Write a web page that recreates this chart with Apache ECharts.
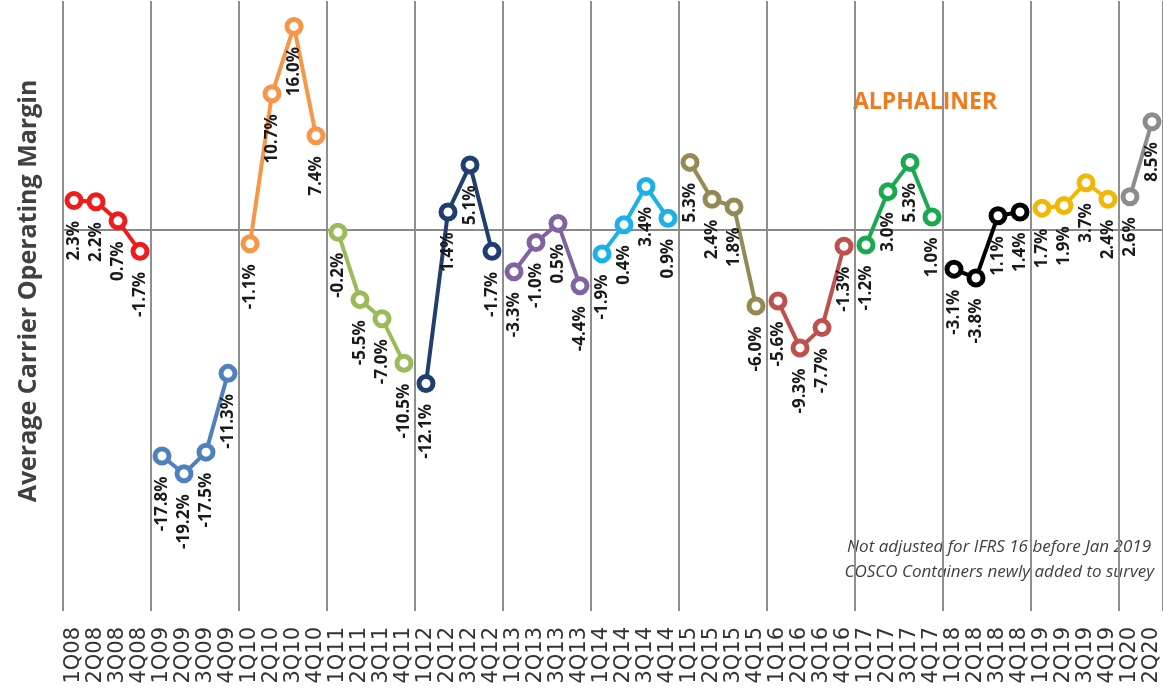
<!DOCTYPE html>
<html>
<head>
<meta charset="utf-8">
<title>Average Carrier Operating Margin</title>
<script src="https://cdn.jsdelivr.net/npm/echarts@6/dist/echarts.min.js"></script>
<style>
  html, body { margin: 0; padding: 0; background: #ffffff; }
  #chart { width: 1163px; height: 695px; }
</style>
</head>
<body>
<div id="chart"></div>
<script>
// Quarter categories, 1Q08 through 2Q20
const quarters = [
  '1Q08','2Q08','3Q08','4Q08','1Q09','2Q09','3Q09','4Q09',
  '1Q10','2Q10','3Q10','4Q10','1Q11','2Q11','3Q11','4Q11',
  '1Q12','2Q12','3Q12','4Q12','1Q13','2Q13','3Q13','4Q13',
  '1Q14','2Q14','3Q14','4Q14','1Q15','2Q15','3Q15','4Q15',
  '1Q16','2Q16','3Q16','4Q16','1Q17','2Q17','3Q17','4Q17',
  '1Q18','2Q18','3Q18','4Q18','1Q19','2Q19','3Q19','4Q19',
  '1Q20','2Q20'
];

// Average carrier operating margin per quarter (%)
const margins = [
  2.3, 2.2, 0.7, -1.7,
  -17.8, -19.2, -17.5, -11.3,
  -1.1, 10.7, 16.0, 7.4,
  -0.2, -5.5, -7.0, -10.5,
  -12.1, 1.4, 5.1, -1.7,
  -3.3, -1.0, 0.5, -4.4,
  -1.9, 0.4, 3.4, 0.9,
  5.3, 2.4, 1.8, -6.0,
  -5.6, -9.3, -7.7, -1.3,
  -1.2, 3.0, 5.3, 1.0,
  -3.1, -3.8, 1.1, 1.4,
  1.7, 1.9, 3.7, 2.4,
  2.6, 8.5
];

// One line per year, each with its own colour
const years = ['2008','2009','2010','2011','2012','2013','2014','2015','2016','2017','2018','2019','2020'];
const yearColors = [
  '#ee1c1c', '#4f81bd', '#f79646', '#9bbb59', '#1f3f6e', '#8064a2',
  '#1ab0e8', '#948a54', '#c0504d', '#19a94f', '#000000', '#f2b705', '#8c8c8c'
];

const series = years.map((year, y) => ({
  type: 'line',
  name: year,
  data: margins.map((v, i) => (Math.floor(i / 4) === y ? v : null)),
  connectNulls: false,
  symbol: 'circle',
  symbolSize: 14,
  itemStyle: { color: '#ffffff', borderColor: yearColors[y], borderWidth: 5 },
  lineStyle: { color: yearColors[y], width: 4 },
  label: {
    show: true,
    position: 'bottom',
    distance: 11,
    rotate: 90,
    align: 'right',
    verticalAlign: 'middle',
    fontFamily: 'Open Sans',
    fontWeight: 'bold',
    fontSize: 17,
    color: '#1a1a1a',
    formatter: p => p.value.toFixed(1) + '%'
  },
  z: 3
}));

// Zero reference line
series[0].markLine = {
  silent: true,
  symbol: 'none',
  label: { show: false },
  lineStyle: { color: '#8a8a8a', width: 2, type: 'solid' },
  data: [{ yAxis: 0 }],
  z: 1
};

const chart = echarts.init(document.getElementById('chart'), null, { renderer: 'canvas' });

chart.setOption({
  animation: false,
  backgroundColor: '#ffffff',
  grid: { left: 63, right: 0, top: 1, bottom: 84, containLabel: false, outerBoundsMode: 'none' },
  xAxis: {
    type: 'category',
    data: quarters,
    boundaryGap: true,
    axisLine: { show: false, onZero: false },
    axisTick: { show: false },
    axisLabel: {
      interval: 0,
      rotate: 90,
      margin: 16,
      fontFamily: 'DejaVu Sans',
      fontSize: 21,
      color: '#333333'
    },
    splitLine: {
      show: true,
      interval: (index) => index % 4 === 0,
      lineStyle: { color: '#8f8f8f', width: 2 }
    }
  },
  yAxis: {
    type: 'value',
    min: -30,
    max: 18,
    axisLine: { show: false },
    axisTick: { show: false },
    axisLabel: { show: false },
    splitLine: { show: false }
  },
  graphic: [
    {
      type: 'text',
      x: 29,
      y: 291,
      rotation: Math.PI / 2,
      style: {
        text: 'Average Carrier Operating Margin',
        font: 'bold 25px "Open Sans"',
        fill: '#404040',
        align: 'center',
        verticalAlign: 'middle'
      }
    },
    {
      type: 'text',
      x: 925,
      y: 102,
      z: -1,
      style: {
        text: 'ALPHALINER',
        font: 'bold 23px "Open Sans"',
        fill: '#f07a1e',
        align: 'center',
        verticalAlign: 'middle'
      }
    },
    {
      type: 'rect',
      shape: { x: 828, y: 529, width: 335, height: 58 },
      style: { fill: '#ffffff' }
    },
    {
      type: 'text',
      x: 1151,
      y: 547,
      style: {
        text: 'Not adjusted for IFRS 16 before Jan 2019',
        font: 'italic 17px "Open Sans"',
        fill: '#404040',
        align: 'right',
        verticalAlign: 'middle'
      }
    },
    {
      type: 'text',
      x: 1154,
      y: 572,
      style: {
        text: 'COSCO Containers newly added to survey',
        font: 'italic 17px "Open Sans"',
        fill: '#404040',
        align: 'right',
        verticalAlign: 'middle'
      }
    }
  ],
  series: series
});
</script>
</body>
</html>
